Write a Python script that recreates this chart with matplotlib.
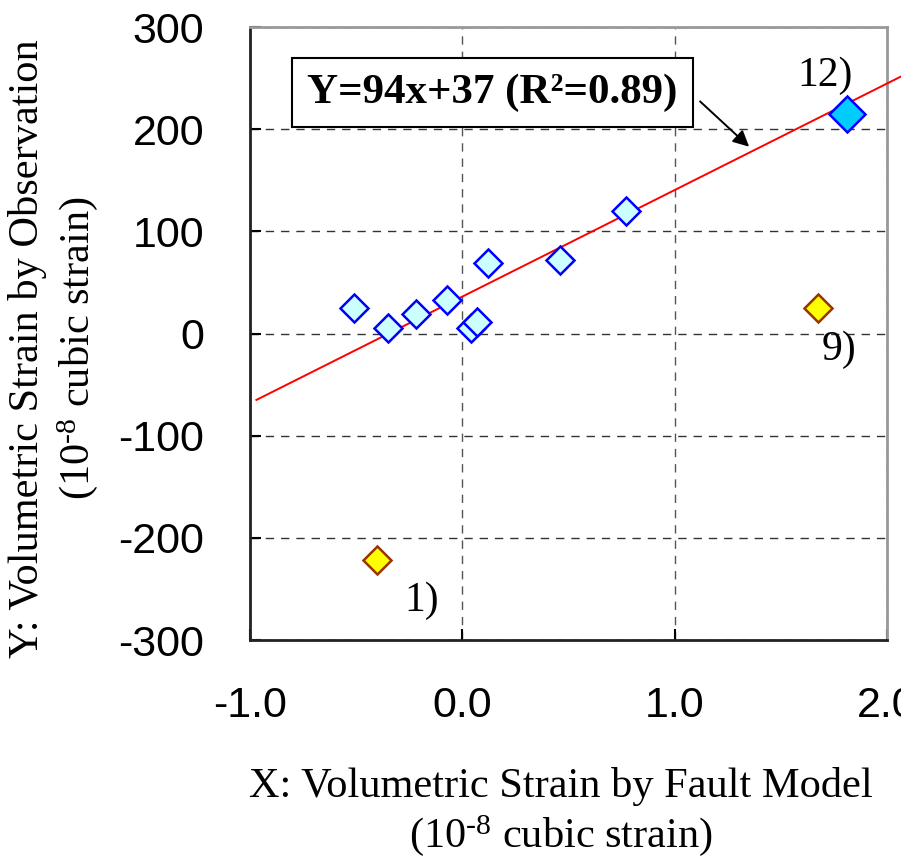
import matplotlib
matplotlib.use('Agg')
import matplotlib.pyplot as plt

plt.rcParams['font.family'] = ['Liberation Sans', 'DejaVu Sans']
plt.rcParams['axes.unicode_minus'] = False
plt.rcParams['mathtext.fontset'] = 'custom'
plt.rcParams['mathtext.rm'] = 'Liberation Serif'
plt.rcParams['mathtext.it'] = 'Liberation Serif:italic'
plt.rcParams['mathtext.bf'] = 'Liberation Serif:bold'

# regular stations
x_obs = [-0.51, -0.35, -0.22, -0.07, 0.04, 0.07, 0.12, 0.46, 0.77]
y_obs = [25, 5, 19, 33, 5, 11, 69, 72, 120]
# station 12)
x_12, y_12 = [1.81], [215]
# outliers 1) and 9)
x_out = [-0.40, 1.675]
y_out = [-222, 25]
out_names = ['1)', '9)']
# regression line as drawn
fit_x = [-0.97, 2.07]
fit_y = [-65, 252]

serif = ['Liberation Serif', 'DejaVu Serif']
sub_label = r'(10$^{\text{-8}}$ cubic strain)'

fig = plt.figure(figsize=(9.01, 8.6), dpi=100)
ax = fig.add_axes([0.2775, 0.2558, 0.707, 0.7128])

ax.set_xlim(-1.0, 2.0)
ax.set_ylim(-300, 300)
ax.set_xticks([-1.0, 0.0, 1.0, 2.0])
ax.set_xticklabels(['-1.0', '0.0', '1.0', '2.0'])
ax.set_yticks([-300, -200, -100, 0, 100, 200, 300])
ax.tick_params(axis='both', labelsize=31, direction='in', length=8, width=1.5)
ax.tick_params(axis='x', pad=33)
ax.tick_params(axis='y', pad=33)
ax.grid(True, linestyle=(0, (6, 5)), color='#333333', linewidth=1.0)
ax.xaxis.grid(True, color='#555555')

for s in ['left', 'bottom']:
    ax.spines[s].set_color('#222222')
    ax.spines[s].set_linewidth(2)
for s in ['top', 'right']:
    ax.spines[s].set_color('#999999')
    ax.spines[s].set_linewidth(2)

ax.plot(fit_x, fit_y, color='red', linewidth=1.4, clip_on=False, zorder=3)

ax.plot(x_obs, y_obs, linestyle='none', marker='D', markersize=14.5,
        markerfacecolor='#CCFFFF', markeredgecolor='#0000FF',
        markeredgewidth=1.8, zorder=4)
ax.plot(x_12, y_12, linestyle='none', marker='D', markersize=18,
        markerfacecolor='#00CCFF', markeredgecolor='#0000FF',
        markeredgewidth=1.8, zorder=4)
ax.plot(x_out, y_out, linestyle='none', marker='D', markersize=14.5,
        markerfacecolor='#FFFF00', markeredgecolor='#993300',
        markeredgewidth=1.8, zorder=4)

ax.text(1.71, 252, '12)', fontsize=30, family=serif, ha='center', va='center')
ax.text(1.775, -16, out_names[1], fontsize=30, family=serif, ha='center', va='center')
ax.text(-0.19, -262, out_names[0], fontsize=30, family=serif, ha='center', va='center')

ax.text(0.142, 236, 'Y=94x+37 (R²=0.89)', fontsize=31, family=serif,
        fontweight='bold', ha='center', va='center', zorder=5,
        bbox=dict(boxstyle='square,pad=0.35', facecolor='white',
                  edgecolor='black', linewidth=1.5))
ax.annotate('', xy=(1.36, 181), xytext=(1.11, 229),
            arrowprops=dict(arrowstyle='-|>', color='black', lw=1.4,
                            mutation_scale=24))

fig.text(0.6225, 0.085, 'X: Volumetric Strain by Fault Model', fontsize=30.5,
         family=serif, ha='center', va='center')
fig.text(0.6225, 0.028, sub_label, fontsize=30.5,
         family=serif, ha='center', va='center')
fig.text(0.031, 0.595, 'Y: Volumetric Strain by Observation', fontsize=30.5,
         family=serif, ha='center', va='center', rotation=90)
fig.text(0.086, 0.595, sub_label, fontsize=30.5,
         family=serif, ha='center', va='center', rotation=90)

fig.savefig('out.png', dpi=100)
